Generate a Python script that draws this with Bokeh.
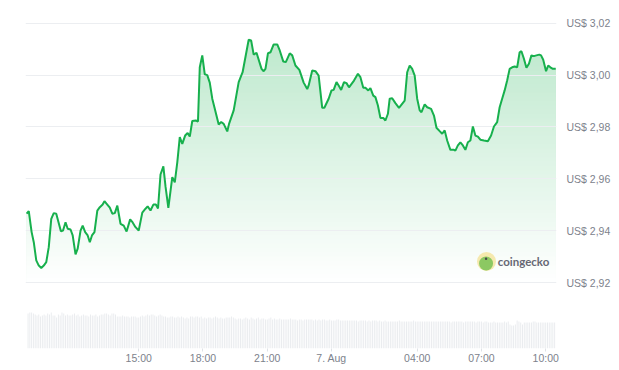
import numpy as np
import pandas as pd
from bokeh.plotting import figure
from bokeh.models import Range1d, FixedTicker, CustomJSTickFormatter, Label
from bokeh.embed import file_html
from bokeh.resources import INLINE

# ---------------- data ----------------
price_times = [
    "09:46", "09:52", "10:00", "10:06", "10:13", "10:20", "10:27", "10:34", "10:41", "10:48",
    "10:55", "11:02", "11:09", "11:14", "11:22", "11:28", "11:35", "11:41", "11:49", "11:55",
    "12:03", "12:09", "12:17", "12:23", "12:30", "12:37", "12:43", "12:49", "12:56", "13:04",
    "13:11", "13:19", "13:24", "13:32", "13:39", "13:46", "13:53", "14:00", "14:09", "14:18",
    "14:26", "14:36", "14:43", "14:51", "15:00", "15:10", "15:19", "15:25", "15:33", "15:41",
    "15:48", "15:54", "16:01", "16:09", "16:15", "16:23", "16:34", "16:41", "16:48", "16:55",
    "17:02", "17:10", "17:17", "17:23", "17:30", "17:40", "17:46", "17:51", "17:58", "18:05",
    "18:12", "18:19", "18:26", "18:32", "18:44", "18:51", "18:58", "19:08", "19:13", "19:26",
    "19:40", "19:51", "20:08", "20:15", "20:22", "20:30", "20:44", "20:50", "20:55", "21:02",
    "21:09", "21:18", "21:28", "21:35", "21:45", "21:52", "22:03", "22:10", "22:19", "22:30",
    "22:42", "22:52", "22:56", "23:06", "23:15", "23:24", "23:34", "23:40", "23:52", "00:00",
    "00:06", "00:14", "00:20", "00:27", "00:35", "00:42", "00:49", "01:03", "01:14", "01:21",
    "01:29", "01:35", "01:43", "01:49", "01:57", "02:03", "02:10", "02:17", "02:25", "02:31",
    "02:38", "02:43", "02:50", "02:59", "03:09", "03:25", "03:32", "03:39", "03:46", "03:53",
    "04:00", "04:07", "04:12", "04:21", "04:28", "04:39", "04:47", "04:54", "05:03", "05:10",
    "05:17", "05:24", "05:33", "05:43", "05:47", "05:54", "06:01", "06:08", "06:15", "06:22",
    "06:29", "06:36", "06:43", "06:50", "06:57", "07:07", "07:18", "07:27", "07:35", "07:44",
    "07:51", "07:58", "08:05", "08:12", "08:19", "08:26", "08:33", "08:40", "08:47", "08:52",
    "08:59", "09:06", "09:13", "09:20", "09:27", "09:34", "09:42", "09:47", "09:53", "10:01",
    "10:07", "10:13", "10:20", "10:28",
]

price_values = [
    2.9466, 2.9476, 2.9395, 2.9356, 2.9286, 2.9266, 2.9257, 2.9266, 2.9279, 2.9337,
    2.9446, 2.9468, 2.9466, 2.9440, 2.9398, 2.9401, 2.9433, 2.9408, 2.9405, 2.9382,
    2.9309, 2.9331, 2.9401, 2.9420, 2.9395, 2.9382, 2.9356, 2.9382, 2.9395, 2.9478,
    2.9491, 2.9501, 2.9514, 2.9501, 2.9489, 2.9466, 2.9468, 2.9497, 2.9427, 2.9420,
    2.9397, 2.9444, 2.9432, 2.9414, 2.9401, 2.9470, 2.9485, 2.9494, 2.9478, 2.9501,
    2.9501, 2.9486, 2.9617, 2.9648, 2.9571, 2.9488, 2.9607, 2.9587, 2.9664, 2.9761,
    2.9735, 2.9767, 2.9777, 2.9763, 2.9823, 2.9825, 2.9821, 3.0030, 3.0076, 3.0003,
    3.0000, 2.9971, 2.9909, 2.9876, 2.9810, 2.9819, 2.9812, 2.9783, 2.9812, 2.9864,
    2.9973, 3.0011, 3.0136, 3.0133, 3.0079, 3.0086, 3.0024, 3.0015, 3.0024, 3.0084,
    3.0088, 3.0118, 3.0118, 3.0095, 3.0052, 3.0050, 3.0084, 3.0076, 3.0037, 3.0020,
    2.9971, 2.9946, 2.9960, 3.0018, 3.0015, 2.9998, 2.9874, 2.9874, 2.9909, 2.9941,
    2.9943, 2.9973, 2.9960, 2.9943, 2.9973, 2.9969, 2.9953, 2.9979, 3.0005, 2.9992,
    2.9951, 2.9951, 2.9941, 2.9950, 2.9921, 2.9915, 2.9883, 2.9835, 2.9835, 2.9825,
    2.9851, 2.9909, 2.9911, 2.9892, 2.9874, 2.9902, 3.0011, 3.0037, 3.0024, 2.9998,
    2.9909, 2.9864, 2.9857, 2.9887, 2.9876, 2.9870, 2.9844, 2.9797, 2.9784, 2.9774,
    2.9787, 2.9748, 2.9712, 2.9712, 2.9709, 2.9729, 2.9741, 2.9729, 2.9712, 2.9741,
    2.9748, 2.9802, 2.9767, 2.9763, 2.9751, 2.9748, 2.9745, 2.9767, 2.9802, 2.9819,
    2.9876, 2.9909, 2.9941, 2.9979, 3.0024, 3.0030, 3.0033, 3.0030, 3.0088, 3.0092,
    3.0063, 3.0028, 3.0044, 3.0076, 3.0073, 3.0076, 3.0079, 3.0076, 3.0059, 3.0015,
    3.0037, 3.0030, 3.0024, 3.0024,
]

# 5-minute volume bars (relative units), first bar at 09:50 on 6 Aug
volume_start = "2025-08-06 09:50"
volume_values = [
    35, 36, 36, 35, 34, 33, 34, 32, 33, 34, 33, 35,
    34, 36, 33, 33, 31, 34, 33, 36, 35, 33, 34, 33,
    33, 34, 35, 33, 34, 32, 33, 34, 33, 33, 32, 34,
    33, 33, 34, 32, 33, 34, 34, 35, 35, 34, 33, 35,
    35, 34, 32, 32, 32, 33, 32, 32, 32, 31, 32, 32,
    32, 31, 31, 32, 33, 32, 33, 34, 33, 34, 34, 33,
    32, 33, 34, 33, 32, 32, 31, 31, 32, 32, 31, 31,
    32, 31, 32, 31, 30, 31, 30, 32, 32, 31, 32, 32,
    31, 32, 30, 31, 30, 31, 31, 30, 31, 32, 31, 30,
    31, 30, 30, 31, 31, 31, 32, 31, 30, 29, 30, 30,
    29, 30, 31, 30, 29, 31, 30, 29, 30, 31, 29, 30,
    30, 29, 29, 30, 31, 29, 30, 29, 29, 30, 29, 29,
    29, 29, 29, 30, 29, 29, 29, 28, 29, 29, 28, 29,
    29, 29, 29, 29, 28, 29, 28, 29, 28, 29, 29, 28,
    28, 29, 28, 28, 28, 29, 29, 28, 28, 28, 28, 28,
    28, 28, 28, 28, 28, 27, 28, 28, 28, 28, 27, 28,
    27, 28, 28, 28, 27, 28, 27, 27, 28, 27, 27, 27,
    27, 27, 27, 27, 28, 27, 27, 27, 27, 27, 27, 27,
    28, 27, 27, 27, 27, 27, 27, 27, 27, 27, 27, 27,
    27, 27, 27, 27, 27, 27, 27, 27, 27, 26, 27, 27,
    27, 27, 27, 27, 26, 27, 27, 27, 27, 27, 27, 26,
    27, 27, 27, 26, 27, 27, 26, 26, 26, 27, 26, 26,
    26, 26, 26, 27, 26, 27, 24, 23, 23, 24, 28, 27,
    26, 24, 26, 26, 26, 26, 26, 27, 27, 26, 26, 26,
    26, 26, 26, 26, 26, 26, 26, 26,
]

tick_hours = [-9, -6, -3, 0, 4, 7, 10]
tick_labels = ["15:00", "18:00", "21:00", "7. Aug", "04:00", "07:00", "10:00"]
price_ticks = [2.92, 2.94, 2.96, 2.98, 3.00, 3.02]
reference_day = "2025-08-07"


def to_hours(times):
    out, day, prev = [], -1, None
    for t in times:
        h, m = map(int, t.split(":"))
        v = h + m / 60.0
        if prev is not None and v < prev:
            day += 1
        prev = v
        out.append(day * 24 + v)
    return np.array(out)


ph = to_hours(price_times)
pv = np.array(price_values)
vt = pd.date_range(volume_start, periods=len(volume_values), freq="5min")
vh = ((vt - pd.Timestamp(reference_day)) / pd.Timedelta(hours=1)).to_numpy()

GREEN = (23, 176, 77)
GREEN_HEX = "#17b04d"
GRID = "#eceef1"
LABEL = "#7d828c"

p = figure(width=614, height=369, output_backend="svg", toolbar_location=None,
           x_range=Range1d(-14.286, 10.504), y_range=Range1d(2.89464, 3.02335),
           y_axis_location="right",
           min_border_left=25, min_border_right=58, min_border_top=14, min_border_bottom=21)
p.outline_line_color = None
p.background_fill_color = "white"
p.border_fill_color = "white"

# volume bars (separate hidden range)
p.extra_y_ranges = {"vol": Range1d(0, 334)}
p.vbar(x=vh, top=volume_values, width=5 / 60 * 0.55, y_range_name="vol",
       fill_color="#eaecef", line_color=None)

# vertical gradient under the price line: opaque bands, painted top band first
base, top = price_ticks[0], price_ticks[-1]
K = 60
edges = np.linspace(base, top, K + 1)
for k in reversed(range(K)):
    a = 0.30 * ((edges[k] + edges[k + 1]) / 2 - base) / (top - base)
    col = "#%02x%02x%02x" % tuple(int(round(255 * (1 - a) + c * a)) for c in GREEN)
    p.varea(x=ph, y1=base, y2=np.minimum(pv, edges[k + 1]), fill_color=col, level="image")

p.line(ph, pv, line_color=GREEN_HEX, line_width=2)

# price axis (right)
ya = p.yaxis[0]
ya.ticker = FixedTicker(ticks=price_ticks)
ya.formatter = CustomJSTickFormatter(code="return 'US$ ' + tick.toFixed(2).replace('.', ',');")
ya.axis_line_color = None
ya.major_tick_line_color = None
ya.major_tick_in = 0
ya.major_tick_out = 0
ya.minor_tick_line_color = None
ya.minor_tick_out = 0
ya.major_label_standoff = 10
ya.major_label_text_color = LABEL
ya.major_label_text_font = "Liberation Sans"
ya.major_label_text_font_size = "10.5px"

p.ygrid.ticker = FixedTicker(ticks=price_ticks)
p.ygrid.grid_line_color = GRID
p.xgrid.grid_line_color = None

xa = p.xaxis[0]
xa.ticker = FixedTicker(ticks=tick_hours)
xa.major_label_overrides = {h: l for h, l in zip(tick_hours, tick_labels)}
xa.axis_line_color = None
xa.major_tick_in = 0
xa.major_tick_out = 3
xa.major_tick_line_color = "#dfe2e6"
xa.minor_tick_line_color = None
xa.minor_tick_out = 0
xa.major_label_standoff = 0
xa.major_label_text_color = LABEL
xa.major_label_text_font = "Liberation Sans"
xa.major_label_text_font_size = "10.5px"

# coingecko watermark
p.scatter(x=[7.236], y=[2.9282], size=19, fill_color="#f5e9ae", line_color=None)
p.scatter(x=[7.215], y=[2.9274], size=14, fill_color="#8cc862", line_color=None)
p.scatter(x=[7.215], y=[2.9292], size=2.5, fill_color="#4a4a4a", line_color=None)
p.add_layout(Label(x=7.76, y=2.9282, text="coingecko", text_baseline="middle",
                   text_font="Lato", text_font_style="bold", text_font_size="11.5px",
                   text_color="#666874"))

open("out.html", "w").write(file_html(p, INLINE))
